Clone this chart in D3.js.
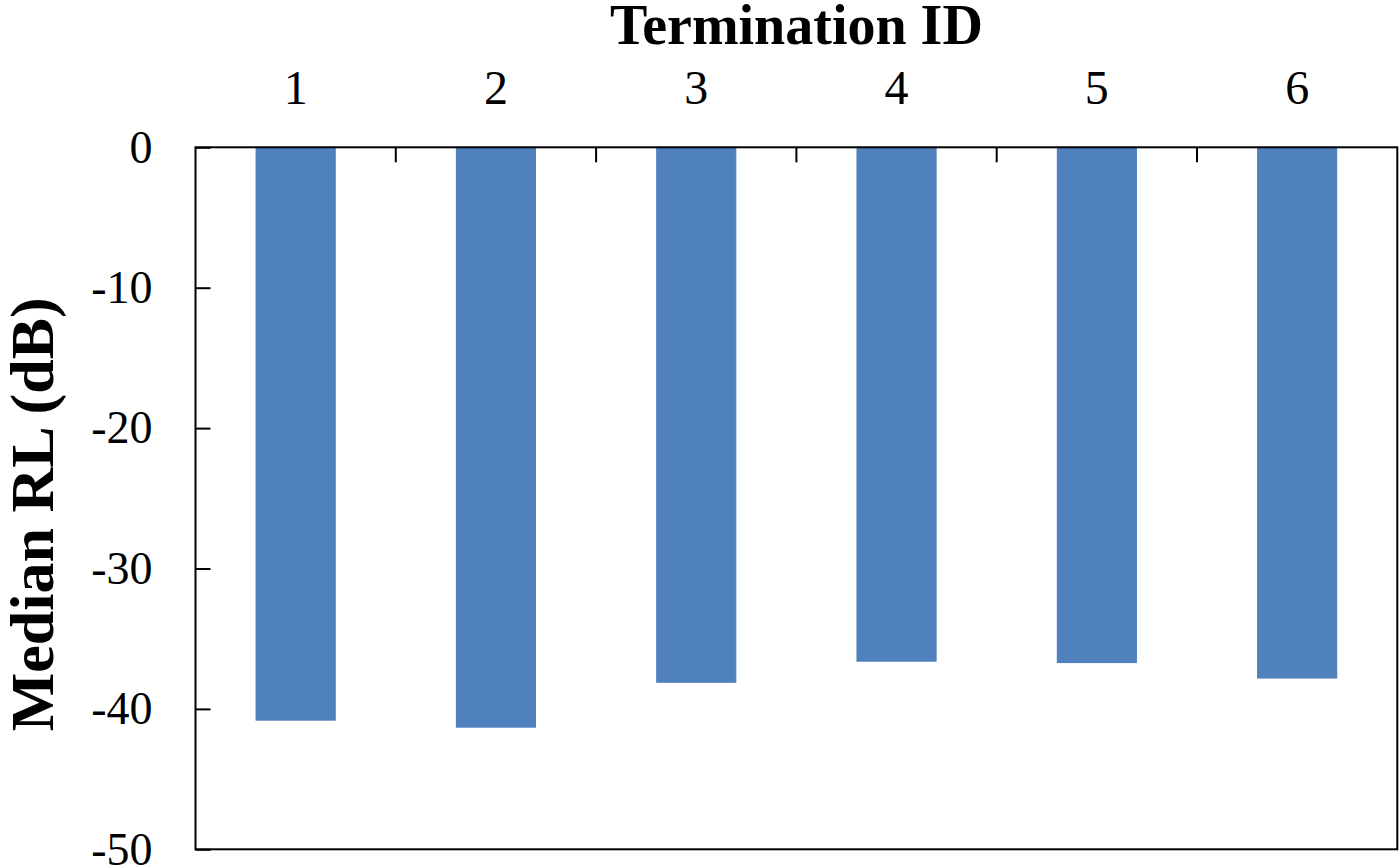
<!DOCTYPE html>
<html>
<head>
<meta charset="utf-8">
<script src="https://cdn.jsdelivr.net/npm/d3@7"></script>
<style>
  html, body { margin: 0; padding: 0; background: #fff; }
  svg { display: block; }
  text { font-family: "Liberation Serif", "Times New Roman", serif; fill: #000; }
</style>
</head>
<body>
<svg id="chart" width="1400" height="867"></svg>
<script>
// ---- data ----
const categories = ["1", "2", "3", "4", "5", "6"];
const medianRL = [-40.8, -41.3, -38.1, -36.6, -36.7, -37.8];
const yTicks = [0, -10, -20, -30, -40, -50];
const xTitle = "Termination ID";
const yTitle = "Median RL (dB)";

// ---- layout ----
const plot = { left: 195.5, right: 1397.3, top: 147.3, bottom: 849.3 };
const svg = d3.select("#chart");

const x = d3.scaleBand()
  .domain(categories)
  .range([plot.left, plot.right])
  .paddingInner(0.605)
  .paddingOuter(0.3025);

const xEdges = d3.scaleBand()
  .domain(categories)
  .range([plot.left, plot.right])
  .padding(0);

const y = d3.scaleLinear()
  .domain([0, -50])
  .range([plot.top, plot.bottom]);

// bars
svg.append("g")
  .selectAll("rect")
  .data(categories.map((c, i) => ({ c, v: medianRL[i] })))
  .join("rect")
  .attr("x", d => x(d.c))
  .attr("width", x.bandwidth())
  .attr("y", d => y(0))
  .attr("height", d => y(d.v) - y(0))
  .attr("fill", "#4F81BD")
  .attr("stroke", "#4A7EBB")
  .attr("stroke-width", 1);

// y axis (ticks pointing inward)
const yAxis = d3.axisLeft(y)
  .tickValues(yTicks)
  .tickFormat(d => String(d))
  .tickSizeInner(-15)
  .tickSizeOuter(0)
  .tickPadding(43);

const gy = svg.append("g")
  .attr("transform", `translate(${plot.left},0)`)
  .call(yAxis);
gy.select(".domain").remove();
gy.selectAll(".tick line").attr("stroke", "#000").attr("stroke-width", 2);
gy.selectAll(".tick text")
  .style("font-family", '"Liberation Serif", "Times New Roman", serif')
  .style("font-size", "46px")
  .attr("fill", "#000");

// x axis on top: labels at category centres, ticks at category boundaries
const xAxis = d3.axisTop(x)
  .tickSize(0)
  .tickPadding(43);
const gx = svg.append("g")
  .attr("transform", `translate(0,${plot.top})`)
  .call(xAxis);
gx.select(".domain").remove();
gx.selectAll(".tick text")
  .style("font-family", '"Liberation Serif", "Times New Roman", serif')
  .style("font-size", "48px")
  .attr("fill", "#000");

svg.append("g")
  .selectAll("line")
  .data(categories.slice(1))
  .join("line")
  .attr("x1", d => xEdges(d))
  .attr("x2", d => xEdges(d))
  .attr("y1", plot.top)
  .attr("y2", plot.top + 15)
  .attr("stroke", "#000")
  .attr("stroke-width", 2);

// frame
svg.append("rect")
  .attr("x", plot.left)
  .attr("y", plot.top)
  .attr("width", plot.right - plot.left)
  .attr("height", plot.bottom - plot.top)
  .attr("fill", "none")
  .attr("stroke", "#000")
  .attr("stroke-width", 2);

// titles
svg.append("text")
  .attr("x", (plot.left + plot.right) / 2)
  .attr("y", 44)
  .attr("text-anchor", "middle")
  .style("font-size", "56px")
  .style("font-weight", "bold")
  .text(xTitle);

svg.append("text")
  .attr("transform", `translate(53,${(plot.top + plot.bottom) / 2 + 16}) rotate(-90)`)
  .attr("text-anchor", "middle")
  .style("font-size", "62px")
  .style("font-weight", "bold")
  .text(yTitle);
</script>
</body>
</html>
